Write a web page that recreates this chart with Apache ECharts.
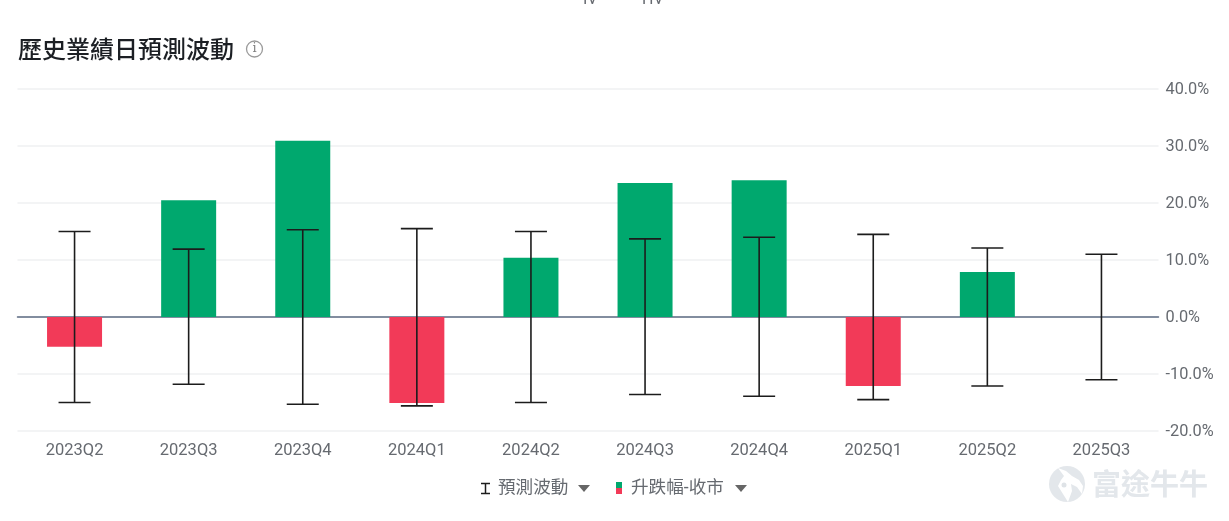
<!DOCTYPE html>
<html>
<head>
<meta charset="utf-8">
<style>html,body{margin:0;padding:0;background:#fff}#chart{width:1229px;height:521px}</style>
<script src="https://cdn.jsdelivr.net/npm/echarts@6/dist/echarts.min.js"></script>
</head>
<body>
<div id="chart"></div>
<script>
const quarters = ['2023Q2','2023Q3','2023Q4','2024Q1','2024Q2','2024Q3','2024Q4','2025Q1','2025Q2','2025Q3'];
const closeMove = [-5.2, 20.5, 30.9, -15.1, 10.4, 23.5, 24.0, -12.1, 7.9, null];
const impliedUp = [15.0, 11.9, 15.3, 15.5, 15.0, 13.7, 14.0, 14.5, 12.1, 11.0];
const impliedDown = [-15.0, -11.8, -15.3, -15.6, -15.0, -13.6, -13.9, -14.5, -12.1, -11.0];
const axisTicks = {min: -20, max: 40, step: 10};

const GREEN = '#00a86e', RED = '#f23a58', INK = '#1c1c1c', LABEL = '#666a70';
const CJK = 'Roboto, "Noto Sans CJK TC", sans-serif';

const chart = echarts.init(document.getElementById('chart'), null, {renderer: 'canvas'});

// Vertical whisker with a cap at each end, one per quarter
function renderWhisker(params, api) {
  const x = api.value(0);
  const top = api.coord([x, api.value(1)]);
  const bottom = api.coord([x, api.value(2)]);
  const capHalf = 16;
  const style = {stroke: INK, lineWidth: 1.6, fill: null};
  return {
    type: 'group',
    children: [
      {type: 'line', shape: {x1: top[0], y1: top[1], x2: bottom[0], y2: bottom[1]}, style},
      {type: 'line', shape: {x1: top[0] - capHalf, y1: top[1], x2: top[0] + capHalf, y2: top[1]}, style},
      {type: 'line', shape: {x1: bottom[0] - capHalf, y1: bottom[1], x2: bottom[0] + capHalf, y2: bottom[1]}, style}
    ]
  };
}

chart.setOption({
  animation: false,
  backgroundColor: '#ffffff',
  title: {
    text: '歷史業績日預測波動',
    left: 13, top: 35,
    textStyle: {fontFamily: CJK, fontSize: 24, fontWeight: 500, color: '#1c1f24'}
  },
  grid: {left: 17.5, width: 1141, top: 89, height: 342},
  xAxis: {
    type: 'category',
    data: quarters,
    axisTick: {show: false},
    axisLine: {onZero: true, lineStyle: {color: '#5d6b82', width: 1.5}},
    axisLabel: {color: LABEL, fontFamily: CJK, fontSize: 16.5, margin: 12}
  },
  yAxis: {
    type: 'value',
    position: 'right',
    min: axisTicks.min,
    max: axisTicks.max,
    interval: axisTicks.step,
    axisLine: {show: false},
    axisTick: {show: false},
    splitLine: {lineStyle: {color: '#f3f4f5', width: 2}},
    axisLabel: {color: LABEL, fontFamily: CJK, fontSize: 16.3, margin: 7,
      verticalAlign: 'top', lineHeight: 2,
      formatter: v => v.toFixed(1) + '%'}
  },
  series: [
    {
      name: '升跌幅-收市',
      type: 'bar',
      barWidth: 55,
      data: closeMove,
      itemStyle: {color: p => (p.value < 0 ? RED : GREEN)}
    },
    {
      name: '預測波動',
      type: 'custom',
      z: 5,
      renderItem: renderWhisker,
      encode: {x: 0, y: [1, 2]},
      data: quarters.map((q, i) => [i, impliedUp[i], impliedDown[i]])
    }
  ],
  graphic: [
    // Clipped legend text from the panel above
    {type: 'text', x: 583, y: -8, style: {text: 'IV', font: '16px Roboto', fill: '#666a70'}},
    {type: 'text', x: 642, y: -8, style: {text: 'HV', font: '16px Roboto', fill: '#666a70'}},
    // Info mark beside the heading
    {type: 'circle', shape: {cx: 254.5, cy: 49, r: 8}, style: {fill: 'none', stroke: '#9a9a9a', lineWidth: 1.3}},
    {type: 'text', x: 254.5, y: 49, style: {text: 'i', font: '13px "DejaVu Serif"', fill: '#808080', align: 'center', verticalAlign: 'middle'}},
    // Legend: whisker entry
    {type: 'line', shape: {x1: 481, y1: 483.5, x2: 490, y2: 483.5}, style: {stroke: INK, lineWidth: 1.5}},
    {type: 'line', shape: {x1: 481, y1: 493.5, x2: 490, y2: 493.5}, style: {stroke: INK, lineWidth: 1.5}},
    {type: 'line', shape: {x1: 485.5, y1: 483, x2: 485.5, y2: 494}, style: {stroke: INK, lineWidth: 1.5}},
    {type: 'text', x: 498, y: 480, style: {text: '預測波動', font: '17.6px ' + CJK, fill: LABEL}},
    {type: 'polygon', shape: {points: [[578, 485], [590, 485], [584, 492]]}, style: {fill: '#666666'}},
    // Legend: bar entry with both colours
    {type: 'rect', shape: {x: 616, y: 482, width: 6, height: 6}, style: {fill: GREEN}},
    {type: 'rect', shape: {x: 616, y: 488, width: 6, height: 6}, style: {fill: RED}},
    {type: 'text', x: 631, y: 480, style: {text: '升跌幅-收市', font: '17.6px ' + CJK, fill: LABEL}},
    {type: 'polygon', shape: {points: [[735, 485], [747, 485], [741, 492]]}, style: {fill: '#666666'}},
    // Brand mark in the corner
    {type: 'circle', shape: {cx: 1067, cy: 484, r: 18}, style: {fill: '#e3e7eb'}},
    {type: 'polygon', shape: {points: [[1058, 468], [1066, 471], [1072, 476], [1079, 480], [1083, 486], [1082, 494], [1077, 487], [1071, 484], [1072, 491], [1068, 502], [1063, 494], [1058, 486], [1061, 480], [1064, 476]]}, style: {fill: '#ffffff'}},
    {type: 'circle', shape: {cx: 1064, cy: 485, r: 2.5}, style: {fill: '#dfe3e7'}},
    {type: 'text', x: 1092, y: 469, style: {text: '富途牛牛', font: '700 29px "Noto Sans CJK TC"', fill: '#e3e7eb'}}
  ]
});
</script>
</body>
</html>
